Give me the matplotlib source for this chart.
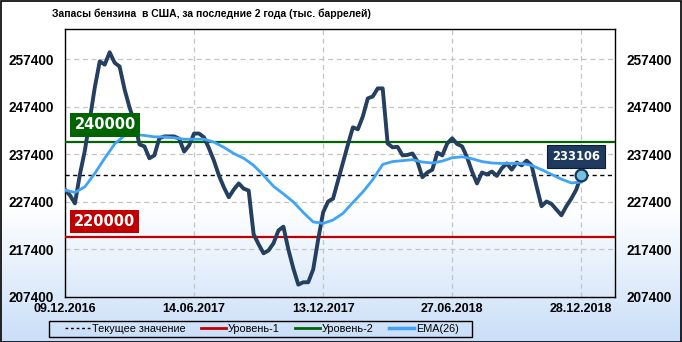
import numpy as np
from matplotlib import pyplot as plt
from matplotlib.lines import Line2D
from matplotlib.patches import Rectangle

# weekly gasoline stocks, thousand barrels
stocks = [230000, 228800, 227100, 233200, 238200, 244800, 251500, 257000, 256300, 258900,
          256700, 255900, 251100, 247300, 244100, 239500, 239100, 236600, 237200, 240800,
          241200, 241200, 241200, 240700, 238000, 239300, 241800, 241800, 241000, 238700,
          236100, 233000, 230500, 228400, 230000, 231300, 230200, 229800, 220600, 218500,
          216600, 217200, 218700, 221400, 222200, 217400, 213400, 210000, 210500, 210500,
          213200, 219500, 225200, 227500, 228100, 231900, 235700, 239500, 243100, 242700,
          245400, 249200, 249600, 251300, 251300, 239700, 238900, 239000, 237200, 237300,
          237600, 235900, 232600, 233600, 234200, 237800, 237200, 239700, 240800, 239600,
          239100, 236800, 233800, 231300, 233600, 233200, 233800, 232900, 234500, 235500,
          234200, 235700, 235100, 236100, 235100, 230700, 226500, 227500, 227000, 225800,
          224600, 226500, 228100, 230000, 233106]

# EMA(26), every 2nd week
ema_idx = list(range(0, 105, 2))
ema = [229900, 229400, 230600, 233400, 236600, 239600, 241400, 241600, 241400, 241100,
       241100, 240900, 240600, 240600, 240600, 240000, 238900, 237600, 236600, 235100,
       233000, 230700, 229100, 227400, 225200, 223200, 222900, 223600, 225000, 227300,
       229500, 232100, 235300, 235900, 236100, 236300, 235800, 235600, 236000, 236700,
       236900, 236500, 235900, 235600, 235500, 235500, 235500, 235100, 234200, 233200,
       232200, 231400, 231600]

tick_idx = [0, 26, 52, 78, 104]
tick_dates = ["09.12.2016", "14.06.2017", "13.12.2017", "27.06.2018", "28.12.2018"]
yticks = [207400, 217400, 227400, 237400, 247400, 257400]

level1 = 220000
level2 = 240000
current = stocks[-1]

navy = "#243f60"
fig = plt.figure(figsize=(6.82, 3.42), dpi=100)

# background gradient white -> light blue towards the bottom
bg = fig.add_axes([0, 0, 1, 1], zorder=-10)
h = 342
grad = np.ones((h, 1, 3))
top_c = np.array([1.0, 1.0, 1.0])
bot_c = np.array([0xc9, 0xde, 0xf8]) / 255
for r in range(h):
    t = (r - 205) / (h - 205)
    t = min(max(t, 0), 1)
    grad[r, 0] = top_c * (1 - t) + bot_c * t
bg.imshow(grad, aspect="auto", extent=[0, 1, 0, 1], origin="upper")
bg.axis("off")

ax = fig.add_axes([65 / 682, 1 - 297 / 342, 550 / 682, 268 / 342])
ax.set_facecolor("none")

x = np.arange(len(stocks))
ax.axhline(level1, color="#c00000", lw=1.6, zorder=3)
ax.axhline(level2, color="#006400", lw=1.6, zorder=3)
ax.axhline(current, color="black", lw=1.0, ls=(0, (3, 2.5)), zorder=3)
ax.plot(x, stocks, color=navy, lw=2.8, zorder=4, solid_joinstyle="round")
ax.plot(ema_idx, ema, color="#3fa3f7", lw=2.0, zorder=5, solid_joinstyle="round")
ax.plot(x[-1], current, "o", ms=8.5, mfc="#74c2de", mec="#17365d", mew=1.6, zorder=6)

ax.set_xlim(0, 110.8)
ax.set_ylim(207400, 263800)
ax.set_xticks(tick_idx)
ax.set_xticklabels(tick_dates)
ax.set_yticks(yticks)
ax.set_yticklabels([str(v) for v in yticks])
ax.grid(True, color="#c4c4c4", lw=0.9, ls=(0, (4, 3)))
ax.tick_params(axis="y", length=0, pad=8, labelright=True, labelsize=9.8)
ax.tick_params(axis="x", length=0, pad=4, labelsize=9)
for t in ax.xaxis.get_major_ticks() + ax.yaxis.get_major_ticks():
    for lab in (t.label1, t.label2):
        lab.set_fontweight("bold")
        lab.set_family("Liberation Sans")
for s in ax.spines.values():
    s.set_linewidth(1.0)
    s.set_color("black")

# value labels
ax.text(8.1, 243600, "240000", color="white", fontsize=10.5, fontweight="bold",
        family="DejaVu Sans", ha="center", va="center", zorder=7,
        bbox=dict(boxstyle="square,pad=0.28", fc="#006400", ec="none"))
ax.text(7.9, 223300, "220000", color="white", fontsize=10.5, fontweight="bold",
        family="DejaVu Sans", ha="center", va="center", zorder=7,
        bbox=dict(boxstyle="square,pad=0.28", fc="#c00000", ec="none"))
ax.text(102.9, 236980, "233106", color="white", fontsize=8.3, fontweight="bold",
        family="DejaVu Sans", ha="center", va="center", zorder=7,
        bbox=dict(boxstyle="square,pad=0.45", fc="#1f3a5f", ec="#0b1c33", lw=0.8))

fig.text(52 / 682, 1 - 14 / 342, "Запасы бензина  в США, за последние 2 года (тыс. баррелей)",
         ha="left", va="center", fontsize=7.5, fontweight="bold", family="Liberation Sans")

handles = [
    Line2D([], [], color="black", lw=1.0, ls=(0, (2, 2))),
    Line2D([], [], color="#c00000", lw=2.0),
    Line2D([], [], color="#006400", lw=2.0),
    Line2D([], [], color="#3fa3f7", lw=2.5),
]
labels = ["Текущее значение", "Уровень-1", "Уровень-2", "EMA(26)"]
leg = fig.legend(handles, labels, ncol=4, loc="center", bbox_to_anchor=(262 / 682, 1 - 329 / 342),
                 frameon=False, handlelength=2.3, handletextpad=0.2,
                 columnspacing=1.4, borderpad=0.0, prop={"family": "Liberation Sans", "size": 7.8})
# legend frame drawn separately (wide and flat)
fig.patches.append(Rectangle((49 / 682, 1 - 337 / 342), 423 / 682, 16 / 342, transform=fig.transFigure,
                             fill=False, ec="black", lw=1.0))

fig.patches.append(Rectangle((0.5 / 682, 0.5 / 342), 680.5 / 682, 340.5 / 342, transform=fig.transFigure,
                             fill=False, ec="black", lw=1.2))

plt.savefig("out.png", dpi=100)
